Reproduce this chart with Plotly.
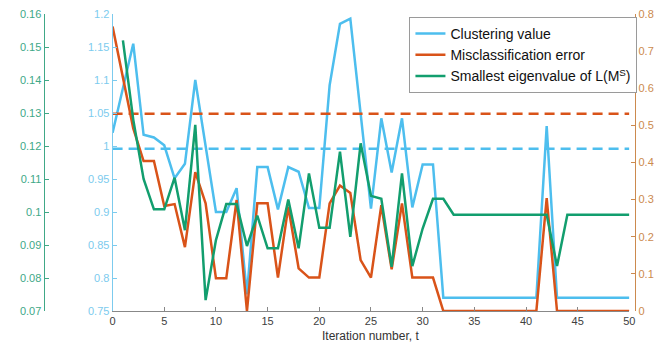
import plotly.graph_objects as go

# The page body has an 8px default margin, so the figure is drawn 8px in from the window corner.
OFF = 8
W, H = 662 - OFF, 346 - OFF

iterations = list(range(0, 51))

clustering_value = [
    1.02, 1.09, 1.155, 1.017, 1.013, 1.001, 0.951, 0.973, 1.10, 1.0,
    0.90, 0.90, 0.936, 0.775, 0.968, 0.968, 0.904, 0.968, 0.961, 0.906,
    0.906, 1.092, 1.185, 1.193, 1.049, 0.905, 1.042, 0.96, 1.042, 0.907,
    0.972, 0.972, 0.77, 0.77, 0.77, 0.77, 0.77, 0.77, 0.77, 0.77,
    0.77, 0.77, 1.03, 0.77, 0.77, 0.77, 0.77, 0.77, 0.77, 0.77,
    0.77,
]

misclassification_error = [
    0.766, 0.63, 0.492, 0.404, 0.404, 0.283, 0.288, 0.172, 0.374, 0.29,
    0.088, 0.088, 0.299, 0.0, 0.29, 0.29, 0.09, 0.281, 0.115, 0.09,
    0.09, 0.29, 0.338, 0.318, 0.137, 0.09, 0.285, 0.112, 0.29, 0.09,
    0.09, 0.09, 0.0, 0.0, 0.0, 0.0, 0.0, 0.0, 0.0, 0.0,
    0.0, 0.0, 0.304, 0.0, 0.0, 0.0, 0.0, 0.0, 0.0, 0.0,
    0.0,
]

smallest_eigenvalue = [
    None, 0.152, 0.128, 0.110, 0.1008, 0.1008, 0.1104, 0.0945, 0.1264, 0.0733,
    0.0915, 0.1024, 0.1024, 0.0897, 0.0989, 0.089, 0.089, 0.1038, 0.089, 0.1117,
    0.0952, 0.0952, 0.1183, 0.0925, 0.1208, 0.1049, 0.104, 0.0834, 0.1117, 0.0836,
    0.095, 0.104, 0.104, 0.0992, 0.0992, 0.0992, 0.0992, 0.0992, 0.0992, 0.0992,
    0.0992, 0.0992, 0.0992, 0.0836, 0.0992, 0.0992, 0.0992, 0.0992, 0.0992, 0.0992,
    0.0992,
]

threshold_x = [0, 50]
clustering_threshold = [0.996, 0.996]
misclassification_threshold = [0.531, 0.531]

x_ticks = [0, 5, 10, 15, 20, 25, 30, 35, 40, 45, 50]
x_ticktext = ["0", "5", "10", "15", "20", "25", "30", "35", "40", "45", "50"]
blue_ticks = [0.75, 0.8, 0.85, 0.9, 0.95, 1.0, 1.05, 1.1, 1.15, 1.2]
blue_ticktext = ["0.75", "0.8", "0.85", "0.9", "0.95", "1", "1.05", "1.1", "1.15", "1.2"]
green_ticks = [0.07, 0.08, 0.09, 0.10, 0.11, 0.12, 0.13, 0.14, 0.15, 0.16]
green_ticktext = ["0.07", "0.08", "0.09", "0.1", "0.11", "0.12", "0.13", "0.14", "0.15", "0.16"]
orange_ticks = [0, 0.1, 0.2, 0.3, 0.4, 0.5, 0.6, 0.7, 0.8]
orange_ticktext = ["0", "0.1", "0.2", "0.3", "0.4", "0.5", "0.6", "0.7", "0.8"]

BLUE = "#4DBEEE"
ORANGE = "#D95319"
GREEN = "#129E6E"
BLUE_AX = "#7CCBEE"
ORANGE_AX = "#CC8A4E"
GREEN_AX = "#40A887"
FONT = "Liberation Sans, Arial, sans-serif"

# target window pixel positions, converted to figure pixels
L_PLOT, R_PLOT, T_PLOT, B_PLOT = 111 - OFF, 635 - OFF, 14 - OFF, 311 - OFF
GREEN_X = 41 - OFF
ORANGE_X = 641 - OFF
LEGEND_X, LEGEND_Y = 412 - OFF, 17 - OFF
XTITLE_Y = 336 - OFF

fig = go.Figure()

fig.add_trace(go.Scatter(x=threshold_x, y=clustering_threshold, mode="lines",
                         line=dict(color=BLUE, width=2.5, dash="10px,6px"),
                         showlegend=False, yaxis="y"))
fig.add_trace(go.Scatter(x=iterations, y=clustering_value, mode="lines",
                         name="Clustering value",
                         line=dict(color=BLUE, width=2.5), yaxis="y"))
fig.add_trace(go.Scatter(x=threshold_x, y=misclassification_threshold, mode="lines",
                         line=dict(color=ORANGE, width=2.5, dash="10px,6px"),
                         showlegend=False, yaxis="y2"))
fig.add_trace(go.Scatter(x=iterations, y=misclassification_error, mode="lines",
                         name="Misclassification error",
                         line=dict(color=ORANGE, width=2.5), yaxis="y2"))
fig.add_trace(go.Scatter(x=iterations, y=smallest_eigenvalue, mode="lines",
                         name="Smallest eigenvalue of L(M<sup>S</sup>)",
                         line=dict(color=GREEN, width=2.5), yaxis="y3"))

plot_h = B_PLOT - T_PLOT

fig.update_layout(
    width=W, height=H,
    margin=dict(l=0, r=0, t=T_PLOT, b=H - B_PLOT, pad=0),
    paper_bgcolor="white", plot_bgcolor="white",
    font=dict(family=FONT, size=11, color="#404040"),
    xaxis=dict(
        domain=[L_PLOT / W, R_PLOT / W], range=[0, 50],
        tickvals=x_ticks, ticktext=x_ticktext,
        ticks="inside", ticklen=4, tickcolor="#888888",
        showline=True, linecolor="#888888", linewidth=1,
        showgrid=False, zeroline=False, ticklabeloverflow="allow",
        tickfont=dict(size=11, color="#404040"),
    ),
    yaxis=dict(
        range=[0.75, 1.2], tickvals=blue_ticks, ticktext=blue_ticktext,
        ticks="inside", ticklen=4, tickcolor=BLUE_AX,
        showline=True, linecolor=BLUE_AX, linewidth=1,
        showgrid=False, zeroline=False, ticklabeloverflow="allow",
        tickfont=dict(size=11, color=BLUE_AX),
    ),
    yaxis2=dict(
        range=[0, 0.8], tickvals=orange_ticks, ticktext=orange_ticktext,
        overlaying="y", side="right", anchor="free", position=ORANGE_X / W,
        ticks="inside", ticklen=4, tickcolor=ORANGE_AX,
        showline=True, linecolor=ORANGE_AX, linewidth=1,
        showgrid=False, zeroline=False, ticklabeloverflow="allow",
        tickfont=dict(size=11, color=ORANGE_AX),
    ),
    yaxis3=dict(
        range=[0.07, 0.16], tickvals=green_ticks, ticktext=green_ticktext,
        overlaying="y", side="left", anchor="free", position=GREEN_X / W,
        ticks="inside", ticklen=4, tickcolor=GREEN_AX,
        showline=True, linecolor=GREEN_AX, linewidth=1,
        showgrid=False, zeroline=False, ticklabeloverflow="allow",
        tickfont=dict(size=11, color=GREEN_AX),
    ),
    legend=dict(
        x=LEGEND_X / W, y=(B_PLOT - LEGEND_Y) / plot_h, xanchor="left", yanchor="top",
        bgcolor="white", bordercolor="#9A9A9A", borderwidth=1,
        font=dict(family=FONT, size=14, color="#111111"),
        itemwidth=30, tracegroupgap=0,
    ),
    annotations=[dict(
        text="Iteration number, t", xref="paper", yref="paper",
        x=(L_PLOT + R_PLOT) / 2 / W, y=(B_PLOT - XTITLE_Y) / plot_h,
        xanchor="center", yanchor="middle", showarrow=False,
        font=dict(family=FONT, size=12, color="#333333"),
    )],
)

fig.write_html("out.html")
